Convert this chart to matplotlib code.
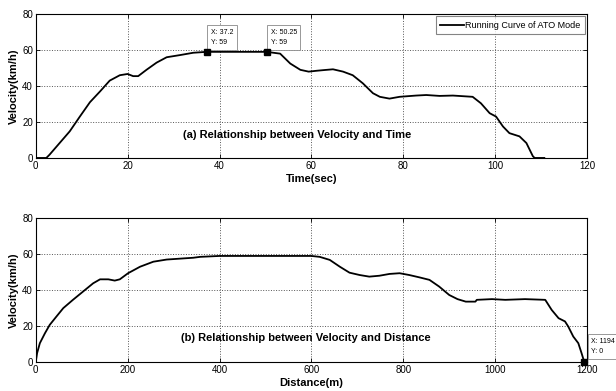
import matplotlib
matplotlib.use("Agg")
import matplotlib.pyplot as plt

plt.rcParams['font.family'] = ['Liberation Sans', 'DejaVu Sans']

# (a) velocity vs time
time_s = [0, 2.3, 3, 5.2, 7.4, 9.6, 11.8, 14, 16.1, 18.3, 20, 21.2, 22.3, 24.1,
          26.3, 28.5, 31.4, 34.3, 37.2, 50.25, 53.2, 55.4, 57.6, 59.4, 61.2,
          62.9, 64.7, 66.9, 69, 71.2, 73.4, 74.9, 77, 79.2, 82.8, 85, 87.9,
          90.8, 95.1, 96.9, 98.8, 100.2, 101.7, 103.1, 105.3, 106.8, 108.2,
          108.6, 110.7]
vel_t = [0, 0, 1.8, 8.3, 14.8, 23, 31, 37, 43, 46, 46.7, 45.5, 45.5, 49,
         53, 56, 57.2, 58.5, 59, 59, 58, 52.5, 49, 48, 48.5,
         48.9, 49.3, 48, 46, 41.5, 36, 34, 33, 34, 34.7, 35, 34.5,
         34.7, 34, 30.4, 24.9, 23, 17.5, 13.8, 12, 8.3, 1,
         0, 0]

# (b) velocity vs distance
dist_m = [0, 3, 9, 20, 30.5, 45, 60, 81, 103, 125, 140, 158, 172, 183, 201,
          227, 256, 285, 343, 358, 400, 600, 618, 640, 662, 683, 705, 726,
          748, 770, 792, 813, 835, 857, 878, 900, 918, 936, 957, 960, 993,
          1022, 1065, 1109, 1123, 1138, 1152, 1159, 1170, 1181, 1188, 1194]
vel_d = [0, 5, 10.5, 16, 20.7, 25.3, 30, 34.6, 39.2, 43.8, 46, 46, 45.3, 46, 49.4,
         53, 55.8, 57, 58, 58.5, 59, 59, 58.5, 56.8, 53, 49.7, 48.4, 47.5,
         48, 49, 49.4, 48.4, 47.1, 45.7, 42, 37.3, 35, 33.6, 33.6, 34.6, 35,
         34.6, 35, 34.6, 29, 24.4, 22.6, 19.8, 14.2, 10.5, 5, 0]

tips_a = [(37.2, 59), (50.25, 59)]
tips_b = [(1194, 0)]

fig = plt.figure(figsize=(6.16, 3.91), dpi=100)
ax1 = fig.add_axes([0.058, 0.596, 0.895, 0.368])
ax2 = fig.add_axes([0.058, 0.074, 0.895, 0.368])


def style(ax, xmax, xticks):
    ax.set_xlim(0, xmax)
    ax.set_ylim(0, 80)
    ax.set_xticks(xticks)
    ax.set_yticks([0, 20, 40, 60, 80])
    ax.grid(True, linestyle=':', color='#555555', linewidth=0.7)
    ax.tick_params(direction='in', length=3, labelsize=7, top=True, right=True,
                   width=0.6, pad=2)
    for s in ax.spines.values():
        s.set_linewidth(0.8)
    ax.set_ylabel('Velocity(km/h)', fontsize=8, fontweight='bold', labelpad=2)


def datatip(ax, x, y, label, dx, dy):
    ax.plot([x], [y], 's', color='black', markersize=4, clip_on=False, zorder=6)
    ax.annotate(label, xy=(x, y), xytext=(dx, dy), textcoords='offset points',
                fontsize=5, va='bottom', ha='left', annotation_clip=False,
                linespacing=1.7,
                bbox=dict(boxstyle='square,pad=0.5', fc='white', ec='#888888', lw=0.6))


ax1.plot(time_s, vel_t, color='black', linewidth=1.3, label='Running Curve of ATO Mode')
style(ax1, 120, [0, 20, 40, 60, 80, 100, 120])
ax1.set_xlabel('Time(sec)', fontsize=8, fontweight='bold', labelpad=2)
ax1.text(57, 12.5, '(a) Relationship between Velocity and Time', fontsize=8,
         fontweight='bold', ha='center', va='center')
leg = ax1.legend(loc='upper right', fontsize=6.5, frameon=True, fancybox=False,
                 edgecolor='#666666', borderpad=0.5, handlelength=2.6,
                 handletextpad=0.15, borderaxespad=0.25)
leg.get_frame().set_linewidth(0.8)
for x, y in tips_a:
    datatip(ax1, x, y, 'X: %g\nY: %g' % (x, y), 3, 4)

ax2.plot(dist_m, vel_d, color='black', linewidth=1.3)
style(ax2, 1200, [0, 200, 400, 600, 800, 1000, 1200])
ax2.set_xlabel('Distance(m)', fontsize=8, fontweight='bold', labelpad=2)
ax2.text(588, 13.5, '(b) Relationship between Velocity and Distance', fontsize=8,
         fontweight='bold', ha='center', va='center')
for x, y in tips_b:
    datatip(ax2, x, y, 'X: %g\nY: %g' % (x, y), 5, 5)

fig.savefig('out.png', dpi=100)
